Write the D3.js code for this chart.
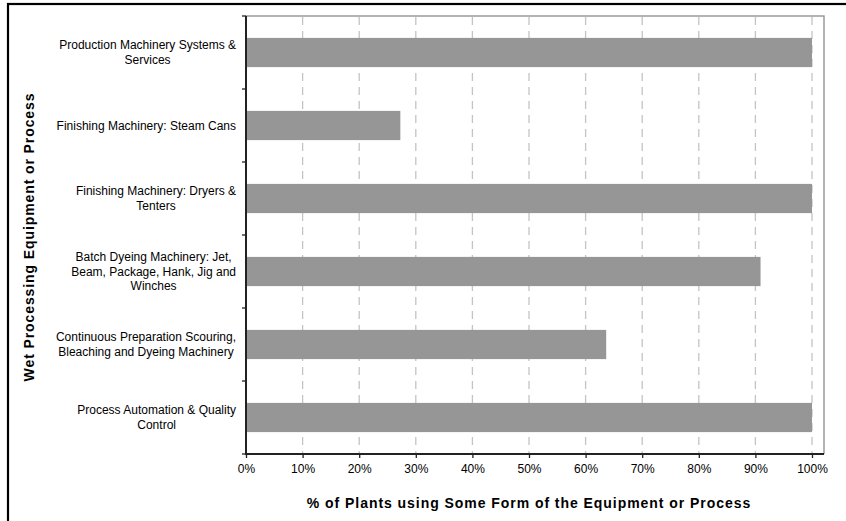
<!DOCTYPE html>
<html>
<head>
<meta charset="utf-8">
<script src="https://cdn.jsdelivr.net/npm/d3@7"></script>
<style>
  html, body { margin: 0; padding: 0; background: #fff; }
  svg { display: block; font-family: "Liberation Sans", Arial, sans-serif; }
</style>
</head>
<body>
<svg id="chart" width="846" height="521"></svg>
<script>
// Equipment / process categories, top to bottom
const categories = [
  "Production Machinery Systems &\nServices",
  "Finishing Machinery: Steam Cans",
  "Finishing Machinery: Dryers &\nTenters",
  "Batch Dyeing Machinery: Jet,\nBeam, Package, Hank, Jig and\nWinches",
  "Continuous Preparation Scouring,\nBleaching and Dyeing Machinery",
  "Process Automation & Quality\nControl"
];
// Share of plants (%) using some form of each
const values = [100, 27.27, 100, 90.91, 63.64, 100];
const xTicks = [0, 10, 20, 30, 40, 50, 60, 70, 80, 90, 100];
const xTitle = "% of Plants using Some Form of the Equipment or Process";
const yTitle = "Wet Processing Equipment or Process";

const svg = d3.select("#chart");

// outer frame (runs off the right and bottom edges)
svg.append("rect")
  .attr("x", 8).attr("y", 4)
  .attr("width", 900).attr("height", 600)
  .attr("fill", "none").attr("stroke", "#000").attr("stroke-width", 2.2);

const plot = { left: 246, top: 16, right: 824, bottom: 454 };

const x = d3.scaleLinear().domain([0, 100]).range([plot.left, 812]);
const y = d3.scaleBand().domain(categories)
  .range([plot.top, plot.bottom])
  .paddingInner(0.6).paddingOuter(0.3);

// plot area border (top and right)
svg.append("path")
  .attr("d", `M${plot.left},${plot.top}H${plot.right}V${plot.bottom}`)
  .attr("fill", "none").attr("stroke", "#9a9a9a").attr("stroke-width", 1.5);

// dashed vertical gridlines
svg.append("g").selectAll("line")
  .data(xTicks.filter(t => t > 0))
  .join("line")
  .attr("x1", d => x(d)).attr("x2", d => x(d))
  .attr("y1", plot.top + 1).attr("y2", plot.bottom)
  .attr("stroke", "#c4c4c4").attr("stroke-width", 1.3)
  .attr("stroke-dasharray", "8,6");

// bars
svg.append("g").selectAll("rect")
  .data(categories)
  .join("rect")
  .attr("x", x(0))
  .attr("y", d => y(d))
  .attr("width", (d, i) => x(values[i]) - x(0))
  .attr("height", y.bandwidth())
  .attr("fill", "#969696");

// x axis
const xAxis = svg.append("g")
  .attr("transform", `translate(0,${plot.bottom})`)
  .call(d3.axisBottom(x).tickValues(xTicks).tickFormat(d => d + "%").tickSize(4).tickPadding(6));
xAxis.select(".domain").attr("d", `M${plot.left},0H${plot.right}`)
  .attr("stroke", "#222").attr("stroke-width", 2);
xAxis.selectAll(".tick line").attr("stroke", "#222").attr("stroke-width", 1.3);
xAxis.selectAll(".tick text")
  .attr("font-family", "Liberation Sans, Arial, sans-serif")
  .attr("font-size", 12).attr("fill", "#000");

// y axis: ticks sit on the band boundaries
const yAxisG = svg.append("g");
yAxisG.append("line")
  .attr("x1", plot.left).attr("x2", plot.left)
  .attr("y1", plot.top).attr("y2", plot.bottom + 1)
  .attr("stroke", "#222").attr("stroke-width", 2);
const step = y.step();
yAxisG.selectAll("line.tk")
  .data(d3.range(categories.length + 1))
  .join("line").attr("class", "tk")
  .attr("x1", plot.left - 4).attr("x2", plot.left)
  .attr("y1", i => plot.top + i * step).attr("y2", i => plot.top + i * step)
  .attr("stroke", "#222").attr("stroke-width", 1.3);

// category labels: centered lines, block right-aligned near the axis
const labelRight = 236;
const lineH = 14.5;
const lab = svg.append("g")
  .attr("font-size", 12).attr("fill", "#000");
categories.forEach((c, i) => {
  const lines = c.split("\n");
  const cy = y(c) + y.bandwidth() / 2;
  const t = lab.append("text").attr("text-anchor", "middle");
  lines.forEach((ln, j) => {
    t.append("tspan")
      .attr("y", cy + (j - (lines.length - 1) / 2) * lineH)
      .attr("dy", "0.35em")
      .text(ln);
  });
  let w = 0;
  t.selectAll("tspan").each(function () { w = Math.max(w, this.getComputedTextLength()); });
  t.attr("x", labelRight - w / 2);
  t.selectAll("tspan").attr("x", labelRight - w / 2);
});

// axis titles
svg.append("text")
  .attr("x", (plot.left + 812) / 2).attr("y", 508)
  .attr("text-anchor", "middle")
  .attr("font-size", 14).attr("font-weight", "bold")
  .attr("letter-spacing", 0.95)
  .text(xTitle);

svg.append("text")
  .attr("transform", `translate(34,${(plot.top + plot.bottom) / 2 + 2}) rotate(-90)`)
  .attr("text-anchor", "middle")
  .attr("font-size", 14).attr("font-weight", "bold")
  .attr("letter-spacing", 0.9)
  .text(yTitle);
</script>
</body>
</html>
